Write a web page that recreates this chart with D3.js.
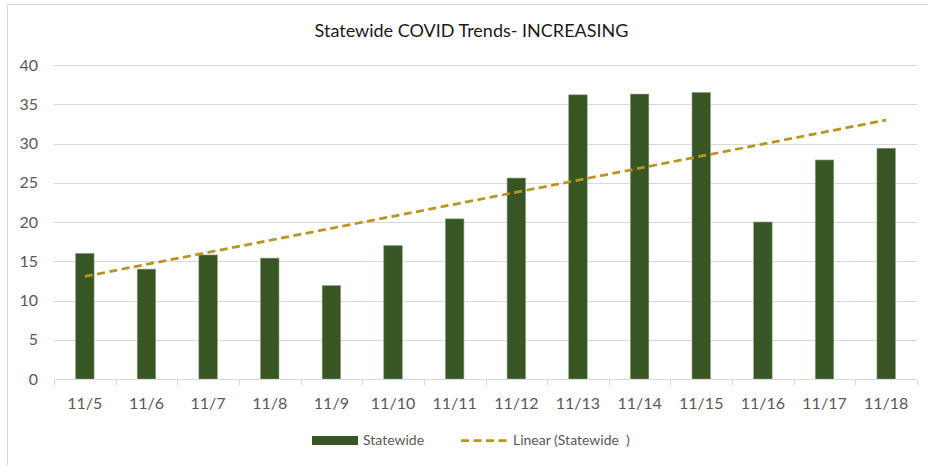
<!DOCTYPE html>
<html>
<head>
<meta charset="utf-8">
<script src="https://cdn.jsdelivr.net/npm/d3@7"></script>
<style>
  html, body { margin: 0; padding: 0; background: #fff; }
  svg { display: block; }
  text { font-family: Lato, "Open Sans", sans-serif; white-space: pre; }
</style>
</head>
<body>
<svg id="chart" width="928" height="465"></svg>
<script>
const title = "Statewide COVID Trends- INCREASING";
const categories = ["11/5","11/6","11/7","11/8","11/9","11/10","11/11","11/12","11/13","11/14","11/15","11/16","11/17","11/18"];
const values = [16, 14, 15.8, 15.4, 11.9, 17, 20.4, 25.6, 36.2, 36.3, 36.5, 20, 27.9, 29.4];
const yTicks = [0, 5, 10, 15, 20, 25, 30, 35, 40];
const seriesName = "Statewide";
const trendName = "Linear (Statewide  )";

const svg = d3.select("#chart");
const m = { left: 54, right: 917, top: 65, bottom: 379 };

// chart area border
svg.append("rect")
  .attr("x", 7.5).attr("y", 4.5).attr("width", 940).attr("height", 480)
  .attr("fill", "#fff").attr("stroke", "#d9d9d9").attr("stroke-width", 1);

const x = d3.scaleBand().domain(categories).range([m.left, m.right])
  .paddingInner(0.7).paddingOuter(0.35);
const y = d3.scaleLinear().domain([0, 40]).range([m.bottom, m.top]);
const step = x.step();

// title
svg.append("text")
  .attr("x", 471.5).attr("y", 37)
  .attr("text-anchor", "middle")
  .attr("fill", "#1a1a1a")
  .style("font-size", "18px")
  .text(title);

// gridlines
svg.append("g").selectAll("line").data(yTicks.filter(t => t > 0)).join("line")
  .attr("x1", m.left).attr("x2", m.right)
  .attr("y1", d => Math.round(y(d)) + 0.5).attr("y2", d => Math.round(y(d)) + 0.5)
  .attr("stroke", "#d9d9d9").attr("stroke-width", 1);

// y axis labels
const yAxis = d3.axisLeft(y).tickValues(yTicks).tickSize(0).tickPadding(0);
const gy = svg.append("g").attr("transform", `translate(38,0)`).call(yAxis);
gy.select(".domain").remove();
gy.selectAll("text").attr("fill", "#595959").style("font-size", "16px").attr("font-family", "Lato, sans-serif");

// bars
svg.append("g").selectAll("rect").data(values).join("rect")
  .attr("x", (d, i) => x(categories[i]))
  .attr("width", x.bandwidth())
  .attr("y", d => y(d))
  .attr("height", d => y(0) - y(d))
  .attr("fill", "#375623")
  .attr("stroke", "#8fa383").attr("stroke-width", 0.6);

// baseline + ticks
const by = Math.round(y(0)) + 0.5;
svg.append("line").attr("x1", m.left).attr("x2", m.right).attr("y1", by).attr("y2", by)
  .attr("stroke", "#d9d9d9").attr("stroke-width", 1);
const bounds = categories.map(c => x(c) + x.bandwidth() / 2 - step / 2);
bounds.push(x(categories[categories.length - 1]) + x.bandwidth() / 2 + step / 2);
svg.append("g").selectAll("line").data(bounds).join("line")
  .attr("x1", d => Math.round(d) + 0.5).attr("x2", d => Math.round(d) + 0.5)
  .attr("y1", by).attr("y2", by + 6)
  .attr("stroke", "#d9d9d9").attr("stroke-width", 1);

// x labels
svg.append("g").selectAll("text").data(categories).join("text")
  .attr("x", d => x(d) + x.bandwidth() / 2)
  .attr("y", 409)
  .attr("text-anchor", "middle")
  .attr("fill", "#595959")
  .style("font-size", "16px")
  .text(d => d);

// linear trendline (least squares over category index)
const n = values.length;
const xs = d3.range(1, n + 1);
const mx = d3.mean(xs), my = d3.mean(values);
const slope = d3.sum(xs, (xi, i) => (xi - mx) * (values[i] - my)) / d3.sum(xs, xi => (xi - mx) ** 2);
const icpt = my - slope * mx;
const trend = [1, n].map(k => ({ c: categories[k - 1], v: icpt + slope * k }));
const trendColor = "#bb9420";
svg.append("path")
  .datum(trend)
  .attr("d", d3.line().x(d => x(d.c) + x.bandwidth() / 2).y(d => y(d.v)))
  .attr("fill", "none")
  .attr("stroke", trendColor)
  .attr("stroke-width", 2.75)
  .attr("stroke-dasharray", "8,4.5");

// legend
const lg = svg.append("g");
lg.append("rect").attr("x", 312).attr("y", 436).attr("width", 46).attr("height", 9)
  .attr("fill", "#375623");
lg.append("text").attr("x", 363).attr("y", 445).attr("fill", "#595959")
  .style("font-size", "14px").text(seriesName);
lg.append("line").attr("x1", 461).attr("x2", 508).attr("y1", 440.5).attr("y2", 440.5)
  .attr("stroke", trendColor).attr("stroke-width", 2.75).attr("stroke-dasharray", "8,4.5");
lg.append("text").attr("x", 513).attr("y", 445).attr("fill", "#595959")
  .style("font-size", "14px").text(trendName);
</script>
</body>
</html>
